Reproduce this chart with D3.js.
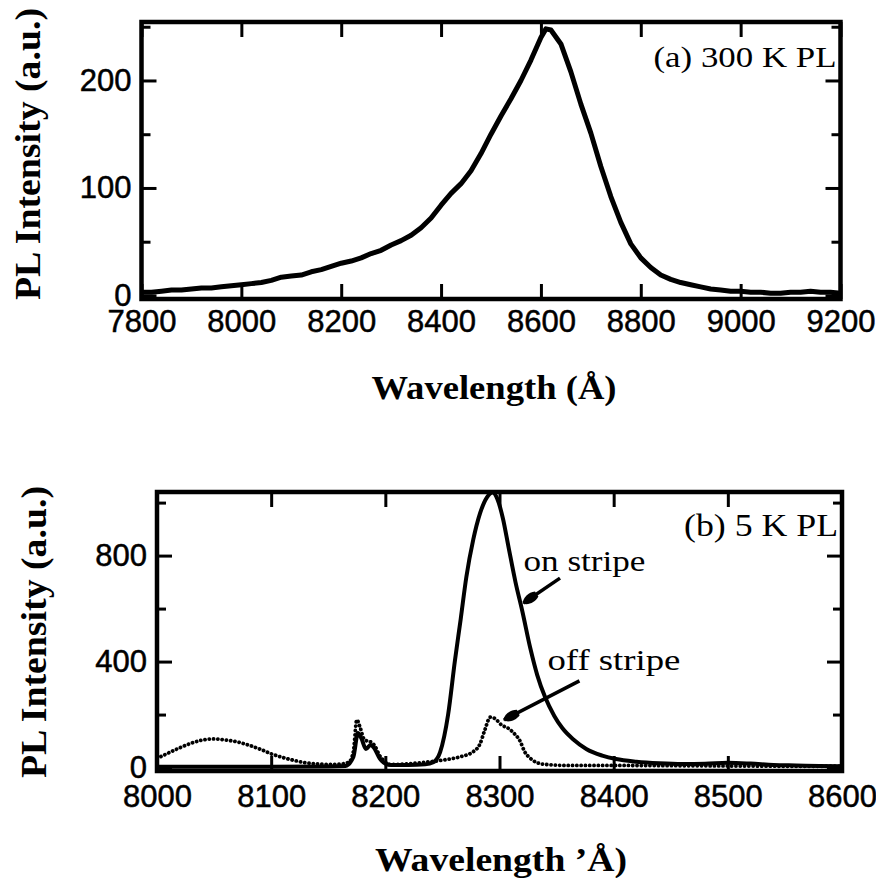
<!DOCTYPE html>
<html lang="en">
<head>
<meta charset="UTF-8">
<title>PL spectra</title>
<script src="https://cdn.jsdelivr.net/npm/d3@7"></script>
<style>
    body { margin: 0; background: #fff; }
    svg text { font-family: "Liberation Serif", "Times New Roman", serif; fill: #000; }
    .tick line { stroke: #000; stroke-width: 3; }
    .tick text { font-family: "Liberation Sans", Arial, sans-serif; stroke: #000; stroke-width: 0.5; }
    .frame { fill: none; stroke: #000; stroke-width: 4.5; }
    .title { font-weight: bold; }
</style>
</head>
<body>
<svg width="876" height="878"></svg>
<script>
    // (a) 300 K PL
    const wlA = [7800, 7820, 7840, 7860, 7880, 7900, 7920, 7940, 7960, 7980,
        8000, 8020, 8040, 8060, 8080, 8100, 8120, 8140, 8160, 8180,
        8200, 8220, 8240, 8260, 8280, 8300, 8320, 8340, 8360, 8380,
        8400, 8420, 8440, 8460, 8480, 8500, 8520, 8540, 8560, 8580,
        8600, 8610, 8620, 8640, 8660, 8680, 8700, 8720, 8740, 8760,
        8780, 8800, 8820, 8840, 8860, 8880, 8900, 8920, 8940, 8960,
        8980, 9000, 9020, 9040, 9060, 9080, 9100, 9120, 9140, 9160,
        9180, 9200];
    const plA = [3, 3, 4, 5, 5, 6, 7, 7, 8, 9,
        10, 11, 12, 14, 17, 18, 19, 22, 24, 27,
        30, 32, 35, 39, 42, 47, 51, 56, 63, 72,
        84, 95, 104, 116, 132, 150, 167, 183, 200, 219,
        240, 248, 247, 234, 208, 178, 151, 120, 92, 68,
        48, 35, 26, 19, 15, 12, 10, 8, 6, 5,
        4, 4, 3, 3, 2, 2, 3, 3, 4, 3,
        3, 2];

    // (b) 5 K PL, on stripe
    const wlOn = [8000, 8050, 8100, 8150, 8165, 8172, 8176, 8179, 8183, 8187,
        8190, 8195, 8200, 8205, 8220, 8235, 8242, 8248, 8255, 8261,
        8266, 8271, 8277, 8283, 8289, 8294, 8298, 8303, 8308, 8314,
        8320, 8327, 8333, 8340, 8348, 8355, 8365, 8376, 8390, 8402,
        8420, 8440, 8460, 8480, 8500, 8520, 8540, 8560, 8580, 8600];
    const plOn = [3, 3, 3, 4, 6, 40, 130, 110, 70, 85,
        75, 35, 15, 10, 10, 12, 20, 58, 200, 405,
        560, 720, 860, 960, 1020, 1038, 1015, 940, 830, 700,
        590, 450, 350, 265, 195, 149, 105, 70, 45, 32,
        22, 16, 13, 14, 18, 15, 10, 8, 6, 5];

    // (b) 5 K PL, off stripe
    const wlOff = [8000, 8010, 8020, 8030, 8040, 8050, 8060, 8070, 8080, 8090,
        8100, 8110, 8120, 8130, 8140, 8150, 8160, 8168, 8172, 8175,
        8178, 8181, 8184, 8188, 8191, 8195, 8199, 8203, 8210, 8230,
        8250, 8265, 8277, 8283, 8287, 8292, 8296, 8302, 8307, 8313,
        8318, 8322, 8327, 8332, 8340, 8360, 8400, 8450, 8500, 8550,
        8600];
    const plOff = [35, 55, 75, 92, 104, 108, 104, 97, 85, 70,
        52, 38, 27, 18, 14, 12, 13, 20, 60, 180,
        150, 110, 100, 95, 80, 45, 25, 12, 12, 18,
        28, 40, 60, 90, 140, 190, 185, 160, 150, 128,
        100, 60, 35, 20, 12, 8, 8, 7, 6, 5,
        5];

    const svg = d3.select("svg");
    svg.append("rect").attr("width", 876).attr("height", 878).attr("fill", "#fff");

    function panel(o) {
        const x = d3.scaleLinear().domain(o.xDomain).range([o.left, o.right]);
        const y = d3.scaleLinear().domain(o.yDomain).range([o.bottom, o.top]);
        const g = svg.append("g");

        const clean = a => a.attr("font-family", null).attr("font-size", null)
            .call(s => s.select(".domain").remove());

        g.append("g").attr("transform", `translate(0,${o.bottom})`)
            .call(d3.axisBottom(x).tickValues(o.xTicks).tickSize(-15).tickPadding(o.xPad).tickFormat(d3.format("d")))
            .call(clean)
            .selectAll("text").style("font-size", o.tickFont + "px");
        g.append("g").attr("transform", `translate(0,${o.top})`)
            .call(d3.axisTop(x).tickValues(o.xTicks).tickSize(-15).tickFormat(""))
            .call(clean);

        g.append("g").attr("transform", `translate(${o.left},0)`)
            .call(d3.axisLeft(y).tickValues(o.yTicks).tickSize(-15).tickPadding(o.yPad).tickFormat(d3.format("d")))
            .call(clean)
            .selectAll("text").style("font-size", o.tickFont + "px");
        g.append("g").attr("transform", `translate(${o.left},0)`)
            .call(d3.axisLeft(y).tickValues(o.yMinor).tickSize(-9).tickFormat(""))
            .call(clean);
        g.append("g").attr("transform", `translate(${o.right},0)`)
            .call(d3.axisRight(y).tickValues(o.yTicks).tickSize(-15).tickFormat(""))
            .call(clean);
        g.append("g").attr("transform", `translate(${o.right},0)`)
            .call(d3.axisRight(y).tickValues(o.yMinor).tickSize(-9).tickFormat(""))
            .call(clean);

        g.append("rect").attr("class", "frame")
            .attr("x", o.left).attr("y", o.top)
            .attr("width", o.right - o.left).attr("height", o.bottom - o.top);

        // axis titles
        g.append("text").attr("class", "title")
            .attr("x", o.xTitleX).attr("y", o.xTitleY)
            .attr("text-anchor", "middle").style("font-size", "34px")
            .attr("textLength", o.xTitleLen).attr("lengthAdjust", "spacingAndGlyphs")
            .text(o.xTitle);
        g.append("text").attr("class", "title")
            .attr("transform", `translate(${o.yTitleX},${o.yTitleY}) rotate(-90)`)
            .attr("text-anchor", "middle").style("font-size", "35px")
            .attr("textLength", 292).attr("lengthAdjust", "spacingAndGlyphs")
            .text("PL  Intensity  (a.u.)");

        // panel label
        g.append("text")
            .attr("x", o.right - 4).attr("y", o.labelY)
            .attr("text-anchor", "end").style("font-size", o.labelFont + "px")
            .attr("textLength", o.labelLen).attr("lengthAdjust", "spacingAndGlyphs")
            .text(o.label);

        return {x, y, g};
    }

    const a = panel({
        xDomain: [7800, 9200], yDomain: [-3.3, 254.4],
        left: 141.5, right: 840.5, top: 22, bottom: 299,
        xTicks: d3.range(7800, 9201, 200), yTicks: [0, 100, 200], yMinor: [50, 150, 250],
        tickFont: 31, xPad: 11, yPad: 10,
        xTitle: "Wavelength  (Å)", xTitleX: 494, xTitleY: 399, xTitleLen: 245,
        yTitleX: 40, yTitleY: 154,
        label: "(a) 300 K PL", labelY: 67, labelFont: 30, labelLen: 183
    });

    a.g.append("path")
        .datum(wlA.map((w, i) => [w, plA[i]]))
        .attr("fill", "none").attr("stroke", "#000").attr("stroke-width", 5)
        .attr("stroke-linejoin", "round")
        .attr("d", d3.line().x(d => a.x(d[0])).y(d => a.y(d[1])));

    const b = panel({
        xDomain: [8000, 8600], yDomain: [-13, 1040],
        left: 157, right: 842, top: 492, bottom: 771,
        xTicks: d3.range(8000, 8601, 100), yTicks: [0, 400, 800], yMinor: [200, 600, 1000],
        tickFont: 31, xPad: 14, yPad: 10,
        xTitle: "Wavelength  ’Å)", xTitleX: 501, xTitleY: 871, xTitleLen: 252,
        yTitleX: 46, yTitleY: 632,
        label: "(b) 5 K PL", labelY: 536, labelFont: 31, labelLen: 154
    });

    b.g.append("path")
        .datum(wlOff.map((w, i) => [w, plOff[i]]))
        .attr("fill", "none").attr("stroke", "#000").attr("stroke-width", 3.8)
        .attr("stroke-linecap", "round").attr("stroke-dasharray", "0.1 4.2")
        .attr("d", d3.line().curve(d3.curveMonotoneX).x(d => b.x(d[0])).y(d => b.y(d[1])));

    b.g.append("path")
        .datum(wlOn.map((w, i) => [w, plOn[i]]))
        .attr("fill", "none").attr("stroke", "#000").attr("stroke-width", 4)
        .attr("stroke-linejoin", "round")
        .attr("d", d3.line().curve(d3.curveMonotoneX).x(d => b.x(d[0])).y(d => b.y(d[1])));

    // annotations: text anchor and arrow in data units
    const notes = [
        {text: "on stripe", at: [8321, 740], from: [8353, 715], to: [8321, 621], len: 122},
        {text: "off stripe", at: [8342, 368], from: [8370, 327], to: [8304, 180], len: 133}
    ];
    notes.forEach(n => {
        b.g.append("text").attr("x", b.x(n.at[0])).attr("y", b.y(n.at[1]))
            .style("font-size", "30px").attr("textLength", n.len).attr("lengthAdjust", "spacingAndGlyphs")
            .text(n.text);
        const x1 = b.x(n.from[0]), y1 = b.y(n.from[1]), x2 = b.x(n.to[0]), y2 = b.y(n.to[1]);
        const ang = Math.atan2(y2 - y1, x2 - x1) * 180 / Math.PI;
        b.g.append("line").attr("x1", x1).attr("y1", y1).attr("x2", x2).attr("y2", y2)
            .attr("stroke", "#000").attr("stroke-width", 3.5);
        b.g.append("path")
            .attr("transform", `translate(${x2},${y2}) rotate(${ang})`)
            .attr("d", "M1,0 C-3,-5 -10,-6 -16,-3 L-16,3 C-10,6 -3,5 1,0 Z")
            .attr("fill", "#000");
    });
</script>
</body>
</html>
